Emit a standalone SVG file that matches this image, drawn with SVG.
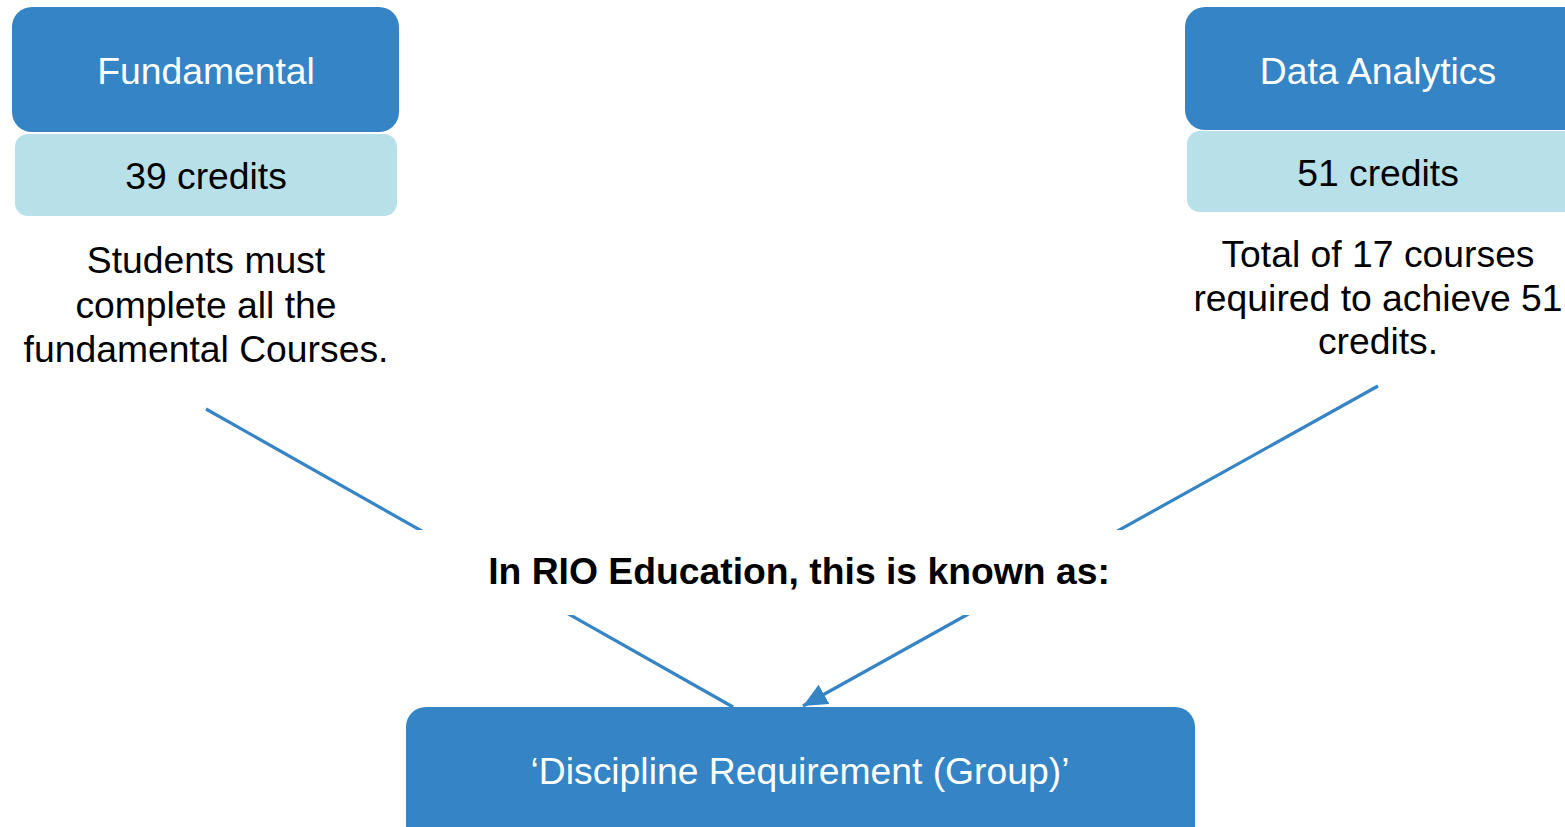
<svg xmlns="http://www.w3.org/2000/svg" width="1565" height="827" viewBox="0 0 1565 827">
<defs>
<style>
.dark{fill:#3584C6;}
.light{fill:#B7E0E8;}
.t{font-family:"Liberation Sans",Arial,sans-serif;font-size:37.3px;text-anchor:middle;}
.w{fill:#FFFFFF;}
.k{fill:#000000;}
.b{font-weight:bold;}
.conn{stroke:#3584C6;stroke-width:3.2;fill:none;}
</style>
<marker id="arr" markerUnits="userSpaceOnUse" markerWidth="26" markerHeight="22" refX="24" refY="11" orient="auto">
<path d="M0,0 L24,11 L0,22 Z" fill="#3584C6"/>
</marker>
</defs>
<rect width="1565" height="827" fill="#FFFFFF"/>
<g id="connectors">
<line class="conn" x1="206" y1="409" x2="733" y2="707"/>
<line class="conn" x1="1378" y1="386" x2="803" y2="706" marker-end="url(#arr)"/>
</g>
<g id="label-known">
<rect x="380" y="530" width="840" height="85" fill="#FFFFFF"/>
<text class="t k b" x="799" y="584">In RIO Education, this is known as:</text>
</g>
<g id="fundamental">
<rect class="dark" x="12" y="7" width="387" height="125" rx="20"/>
<text class="t w" x="206" y="84">Fundamental</text>
<rect class="light" x="15" y="134" width="382" height="82" rx="13"/>
<text class="t k" x="206" y="189">39 credits</text>
<text class="t k" x="206" y="273">Students must</text>
<text class="t k" x="206" y="318">complete all the</text>
<text class="t k" x="206" y="362">fundamental Courses.</text>
</g>
<g id="data-analytics">
<rect class="dark" x="1185" y="7" width="400" height="123" rx="20"/>
<text class="t w" x="1378" y="84">Data Analytics</text>
<rect class="light" x="1187" y="131" width="398" height="81" rx="13"/>
<text class="t k" x="1378" y="186">51 credits</text>
<text class="t k" x="1378" y="267">Total of 17 courses</text>
<text class="t k" x="1378" y="311">required to achieve 51</text>
<text class="t k" x="1378" y="354">credits.</text>
</g>
<g id="discipline-requirement">
<rect class="dark" x="406" y="707" width="789" height="140" rx="20"/>
<text class="t w" x="800" y="784">‘Discipline Requirement (Group)’</text>
</g>
</svg>
